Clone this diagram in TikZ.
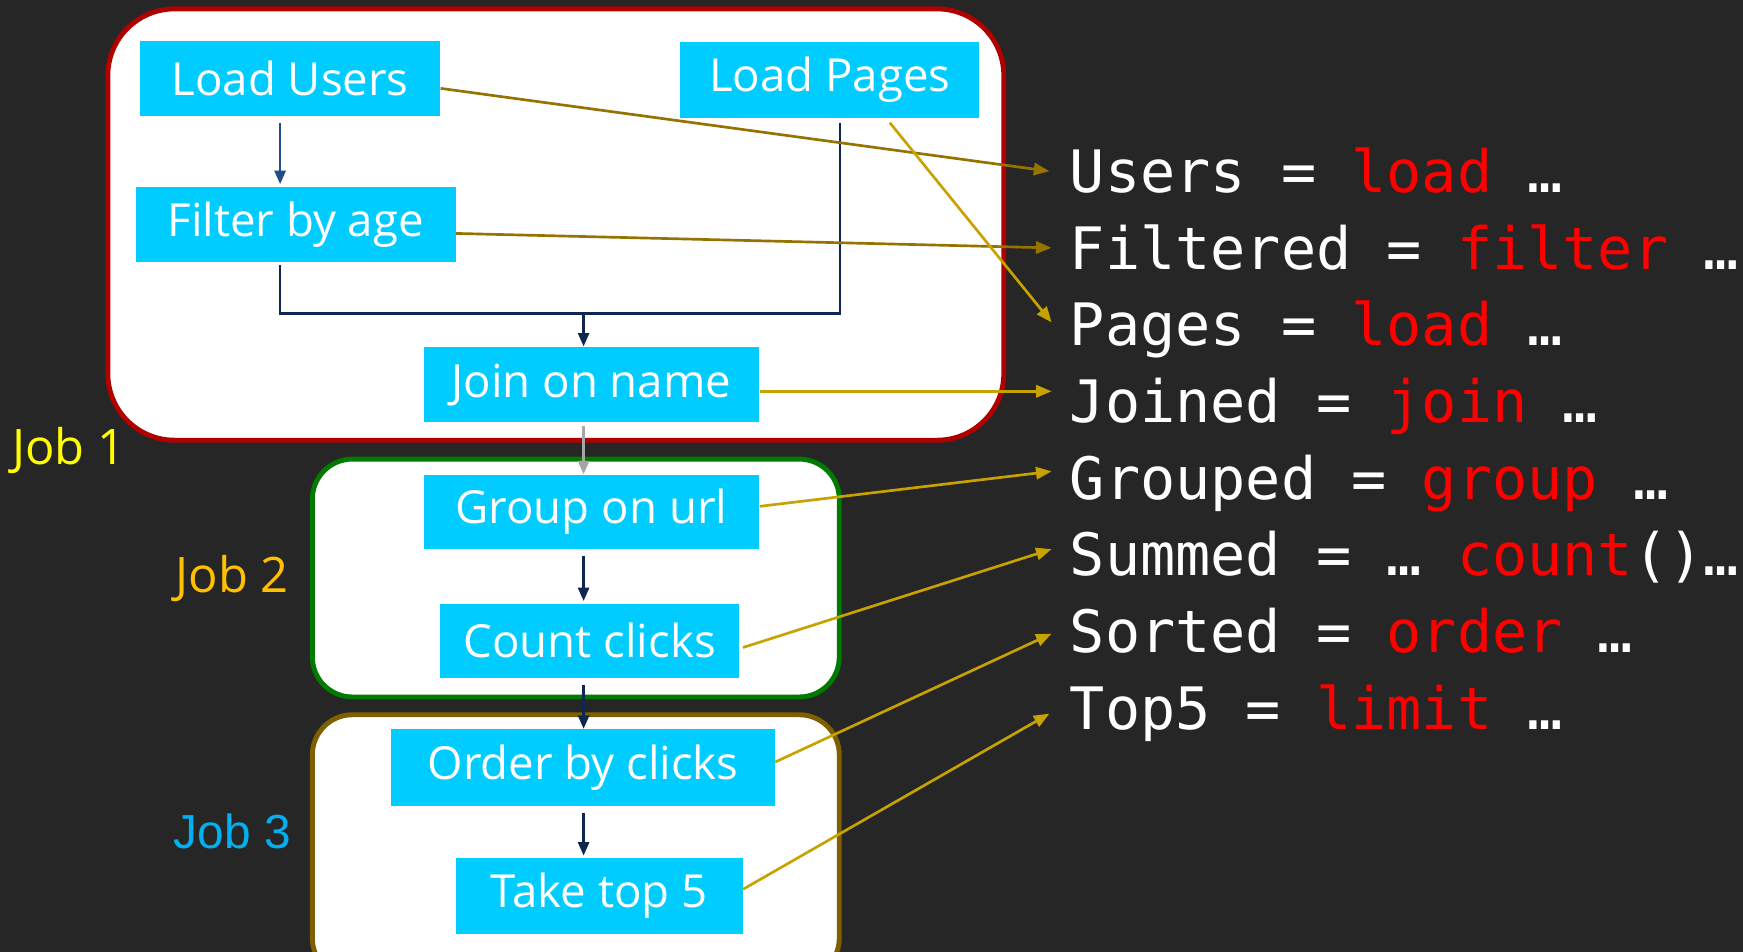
\documentclass[tikz,border=0pt]{standalone}
\usepackage{fontspec}
\setmainfont{Open Sans}
\setmonofont{DejaVu Sans Mono}
\newfontfamily\jobthreefont{Liberation Sans}
\usetikzlibrary{arrows.meta,calc}

\definecolor{bg}{HTML}{262626}
\definecolor{opcyan}{HTML}{00CCFF}
\definecolor{navy}{HTML}{0F2650}
\definecolor{flowblue}{HTML}{1F4E8C}
\definecolor{linkdark}{HTML}{967300}
\definecolor{linklight}{HTML}{C8A200}
\definecolor{jobred}{HTML}{B00000}
\definecolor{jobgreen}{HTML}{007A00}
\definecolor{jobbrown}{HTML}{7F6000}
\definecolor{codered}{HTML}{FF0000}
\definecolor{jobyellow}{HTML}{FFFF00}
\definecolor{joborange}{HTML}{FFC000}
\definecolor{jobblue}{HTML}{00B0F0}

\newcommand{\opfont}{\fontsize{20.5}{20.5}\selectfont}
\newcommand{\codefont}{\ttfamily\fontsize{26.3}{26.3}\selectfont}
\newcommand{\kw}[1]{\textcolor{codered}{#1}}

\tikzset{
  opbox/.style={fill=opcyan, text=white, inner sep=0pt, font=\opfont},
  flow/.style={draw=navy, line width=1pt, -{Triangle[length=6pt,width=5pt]}},
  link/.style={line width=1.2pt, -{Triangle[length=7pt,width=5.5pt]}},
  codeline/.style={anchor=base west, inner xsep=8pt, inner ysep=0pt,
    text height=19pt, text depth=0pt, font=\codefont, text=white},
  jobframe/.style={fill=white, line width=2.2pt},
  joblabel/.style={font=\fontsize{22}{22}\selectfont, inner sep=0pt}
}

\begin{document}
\begin{tikzpicture}[x=0.5pt,y=-0.5pt]
  % canvas
  \fill[bg] (0,0) rectangle (1568,856);
  \useasboundingbox (0,0) rectangle (1568,856);

  % job frames
  \draw[jobframe, draw=jobred, rounded corners=30pt] (97,8) rectangle (903,396);
  \draw[jobframe, draw=jobgreen, rounded corners=18pt] (281,413) rectangle (755,627);
  \draw[jobframe, draw=jobbrown, rounded corners=18pt] (281,643) rectangle (755,880);

  % job labels
  \node[joblabel, text=jobyellow] (job1) at (62,405) {Job 1};
  \node[joblabel, text=joborange] (job2) at (209,520) {Job 2};
  \node[joblabel, text=jobblue, font=\jobthreefont\fontsize{21.5}{21.5}\selectfont] (job3) at (209,748) {Job 3};

  % operators
  \node[opbox, minimum width=135pt, minimum height=33.5pt] (lu) at (261,70.5) {Load Users};
  \node[opbox, minimum width=134.5pt, minimum height=34pt] (lp) at (746.5,72) {Load Pages};
  \node[opbox, minimum width=144pt, minimum height=34pt] (fa) at (266,202) {Filter by age};
  \node[opbox, minimum width=151pt, minimum height=34pt] (jn) at (532,346) {Join on name};
  \node[opbox, minimum width=151pt, minimum height=33.5pt] (gu) at (532,460.5) {Group on url};
  \node[opbox, minimum width=134.5pt, minimum height=33.5pt] (cc) at (530.5,576.5) {Count clicks};
  \node[opbox, minimum width=172.5pt, minimum height=34.5pt] (oc) at (524.5,690.5) {Order by clicks};
  \node[opbox, minimum width=129pt, minimum height=34pt] (tt) at (539,806) {Take top 5};

  % routing points of the dataflow
  \coordinate (spine) at (525,0);
  \coordinate (merge) at (525,282);
  \coordinate (lpdrop) at (756,0);

  % dataflow
  \draw[flow, draw=flowblue, shorten <=3pt, shorten >=1pt] (lu.south -| 252,0) -- (fa.north -| 252,0);
  \draw[navy, line width=1pt] ([yshift=-1pt]fa.south -| 252,0) |- (merge)
        -| ([yshift=-2pt]lp.south -| lpdrop);
  \draw[flow] (merge) -- (jn.north -| spine);
  \draw[flow, draw=gray!70, shorten <=1.5pt] (jn.south -| spine) -- (gu.north -| spine);
  \draw[flow, shorten <=3pt, shorten >=1pt] (gu.south -| spine) -- (cc.north -| spine);
  \draw[flow, shorten <=3pt] (cc.south -| spine) -- (oc.north -| spine);
  \draw[flow, shorten <=3pt, shorten >=1pt] (oc.south -| spine) -- (tt.north -| spine);

  % script lines
  \node[codeline] (cUsers)    at (946,173) {Users = \kw{load} …};
  \node[codeline] (cFiltered) at (946,242) {Filtered = \kw{filter} …};
  \node[codeline] (cPages)    at (946,311) {Pages = \kw{load} …};
  \node[codeline] (cJoined)   at (946,380) {Joined = \kw{join} …};
  \node[codeline] (cGrouped)  at (946,449) {Grouped = \kw{group} …};
  \node[codeline] (cSummed)   at (946,518) {Summed = … \kw{count}()…};
  \node[codeline] (cSorted)   at (946,587) {Sorted = \kw{order} …};
  \node[codeline] (cTop)      at (946,656) {Top5 = \kw{limit} …};

  % operator to statement links
  \draw[link, draw=linkdark, fill=linkdark] ([yshift=-4.5pt]lu.east) -- ([xshift=-1pt]cUsers.west);
  \draw[link, draw=linkdark, fill=linkdark] ([yshift=-4pt]fa.east) -- (cFiltered.west);
  \draw[link, draw=linklight, fill=linklight] ([xshift=27pt,yshift=-2pt]lp.south) -- ([yshift=1pt]cPages.west);
  \draw[link, draw=linklight, fill=linklight] ([yshift=-3pt]jn.east) -- ([yshift=4.5pt]cJoined.west);
  \draw[link, draw=linklight, fill=linklight] ([yshift=2.5pt]gu.east) -- ([yshift=3pt]cGrouped.west);
  \draw[link, draw=linklight, fill=linklight] ([xshift=1.5pt,yshift=-3pt]cc.east) -- ([yshift=2.5pt]cSummed.west);
  \draw[link, draw=linklight, fill=linklight] ([yshift=2.5pt]oc.east) -- ([yshift=-1pt]cSorted.west);
  \draw[link, draw=linklight, fill=linklight] ([yshift=3pt]tt.east) -- ([xshift=-1pt,yshift=-2.5pt]cTop.west);
\end{tikzpicture}
\end{document}
